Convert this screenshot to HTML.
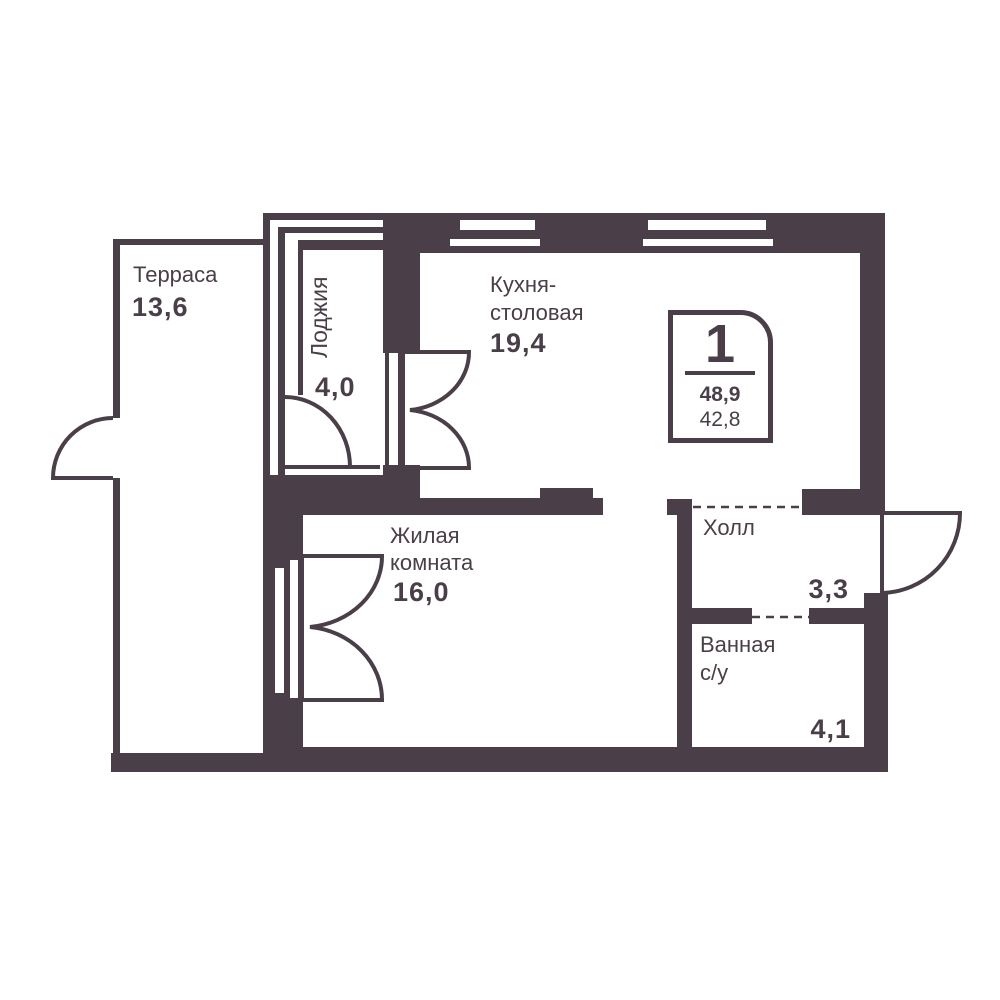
<!DOCTYPE html>
<html><head><meta charset="utf-8"><style>
html,body{margin:0;padding:0;background:#fff;}
svg{display:block}
text{font-family:"Liberation Sans",sans-serif;fill:#4a3f48}
.r{font-size:22px}
.b{font-size:27px;font-weight:bold;letter-spacing:1px}
</style></head><body>
<svg width="1000" height="1000" viewBox="0 0 1000 1000" xmlns="http://www.w3.org/2000/svg">
<g fill="#4a3f48">
<rect x="383" y="213" width="502" height="40"/>
<rect x="263" y="213" width="120" height="7"/>
<rect x="263" y="213" width="7" height="262"/>
<rect x="278" y="227" width="105" height="6"/>
<rect x="278" y="227" width="7" height="248"/>
<rect x="298" y="240" width="85" height="10"/>
<rect x="298" y="240" width="5" height="155"/>
<rect x="383" y="213" width="37" height="140"/>
<rect x="383" y="465" width="37" height="35"/>
<rect x="860" y="213" width="25" height="280"/>
<rect x="802" y="489" width="83" height="26"/>
<rect x="864" y="593" width="24" height="179"/>
<rect x="263" y="475" width="157" height="40"/>
<rect x="263" y="498" width="340" height="17"/>
<rect x="540" y="488" width="53" height="12"/>
<rect x="263" y="475" width="40" height="297"/>
<rect x="667" y="499" width="25" height="16"/>
<rect x="677" y="499" width="15" height="250"/>
<rect x="692" y="608" width="60" height="16"/>
<rect x="809" y="608" width="55" height="16"/>
<rect x="111" y="753" width="777" height="19"/>
<rect x="263" y="747" width="625" height="25"/>
<rect x="113" y="239" width="150" height="6"/>
<rect x="113" y="239" width="7" height="179"/>
<rect x="113" y="478" width="7" height="290"/>
</g>
<g fill="#fff">
<rect x="460" y="220" width="75" height="10"/>
<rect x="450" y="239" width="90" height="7"/>
<rect x="648" y="220" width="118" height="10"/>
<rect x="643" y="239" width="130" height="7"/>
<rect x="383" y="353" width="37" height="112"/>
<rect x="275" y="568" width="9" height="125"/>
<rect x="290" y="560" width="8" height="138"/>
</g>
<g fill="none" stroke="#4a3f48" stroke-width="4">
<line x1="387" y1="353" x2="387" y2="465"/>
<line x1="400" y1="353" x2="400" y2="465"/>
<line x1="403" y1="352" x2="403" y2="468"/>
<path d="M403 352 H469 A66 58 0 0 1 410 410 A66 58 0 0 1 469 468 H403"/>
<path d="M285 397 A65 70 0 0 1 350 467 H380"/>
<line x1="285" y1="467" x2="350" y2="467"/>
<path d="M113 418 A60 60 0 0 0 53 478 H113"/>
<line x1="302" y1="556" x2="302" y2="700"/>
<path d="M302 556 H382 A80 71 0 0 1 310 627 A80 73 0 0 1 382 700 H302"/>
<path d="M882 513 V593 A80 80 0 0 0 960 513 H882"/>
</g>
<g stroke="#4a3f48" stroke-width="2.5" stroke-dasharray="8,6">
<line x1="693" y1="507" x2="800" y2="507"/>
<line x1="752" y1="617" x2="809" y2="617"/>
</g>
<path d="M670.5 312.5 H740 A30 30 0 0 1 770.5 342.5 V440.5 H670.5 Z" fill="none" stroke="#4a3f48" stroke-width="5"/>
<line x1="685" y1="373" x2="755" y2="373" stroke="#4a3f48" stroke-width="4"/>
<text x="720" y="362" text-anchor="middle" style="font-size:54px;font-weight:bold">1</text>
<text x="720" y="401" text-anchor="middle" style="font-size:21px;font-weight:bold">48,9</text>
<text x="720" y="426" text-anchor="middle" style="font-size:21px">42,8</text>
<text class="r" x="133" y="282">Терраса</text>
<text class="b" x="132" y="316">13,6</text>
<text class="r" transform="translate(327,358) rotate(-90)" style="font-size:23px">Лоджия</text>
<text class="b" x="315" y="396">4,0</text>
<text class="r" x="490" y="292">Кухня-</text>
<text class="r" x="490" y="320">столовая</text>
<text class="b" x="490" y="352">19,4</text>
<text class="r" x="390" y="543">Жилая</text>
<text class="r" x="390" y="570">комната</text>
<text class="b" x="393" y="601">16,0</text>
<text class="r" x="703" y="535">Холл</text>
<text class="b" x="849" y="598" text-anchor="end">3,3</text>
<text class="r" x="700" y="652">Ванная</text>
<text class="r" x="700" y="680">с/у</text>
<text class="b" x="851" y="738" text-anchor="end">4,1</text>
</svg>
</body></html>
